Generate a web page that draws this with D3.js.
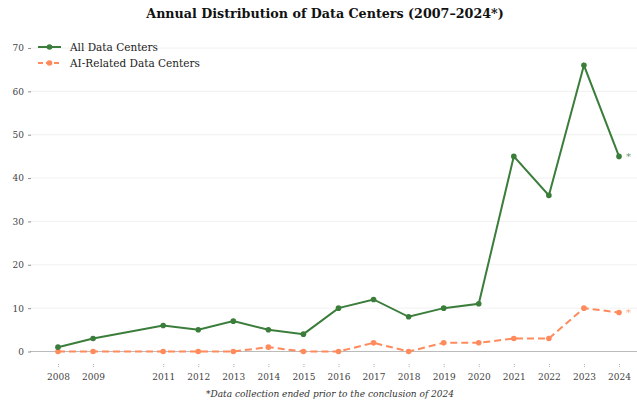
<!DOCTYPE html>
<html><head><meta charset="utf-8">
<script src="https://cdn.jsdelivr.net/npm/d3@7"></script>
<style>
html,body{margin:0;padding:0;background:#fff;}
svg{display:block;font-family:"DejaVu Serif",serif;}
</style></head>
<body><svg id="c" width="637" height="404"></svg>
<script>
const years = [2008,2009,2011,2012,2013,2014,2015,2016,2017,2018,2019,2020,2021,2022,2023,2024];
const allCenters = [1,3,6,5,7,5,4,10,12,8,10,11,45,36,66,45];
const aiCenters = [0,0,0,0,0,1,0,0,2,0,2,2,3,3,10,9];
const yTicks = [0,10,20,30,40,50,60,70];
const seriesNames = ["All Data Centers","AI-Related Data Centers"];
const colors = ["#3b7d3b","#ff8a5b"];
const titleText = "Annual Distribution of Data Centers (2007\u20132024*)";
const footText = "*Data collection ended prior to the conclusion of 2024";

const svg = d3.select("#c");
const x = d3.scaleLinear().domain([2008,2024]).range([58,619]);
const y = d3.scaleLinear().domain([0,70]).range([351.5,48]);

// grid
svg.append("g").selectAll("line").data(yTicks.filter(d=>d>0)).join("line")
  .attr("x1",30).attr("x2",637).attr("y1",d=>y(d)).attr("y2",d=>y(d))
  .attr("stroke","#ececec").attr("stroke-width",0.8);
svg.append("line").attr("x1",30).attr("x2",637).attr("y1",y(0)).attr("y2",y(0))
  .attr("stroke","#bbbbbb").attr("stroke-width",1.2);

// y axis
const ya = svg.append("g").attr("transform","translate(31,0)")
  .call(d3.axisLeft(y).tickValues(yTicks).tickSize(3).tickPadding(4));
ya.select(".domain").remove();
ya.selectAll(".tick line").attr("stroke","#777").attr("stroke-width",0.8);
ya.selectAll("text").attr("font-family","DejaVu Serif").attr("font-size",9).attr("fill","#444");

// x axis
const xa = svg.append("g").attr("transform","translate(0,364)")
  .call(d3.axisBottom(x).tickValues(years).tickFormat(d3.format("d")).tickSize(4).tickPadding(6));
xa.select(".domain").remove();
xa.selectAll(".tick line").attr("stroke","#999").attr("stroke-width",0.8).attr("stroke-dasharray","1,1");
xa.selectAll("text").attr("font-family","DejaVu Serif").attr("font-size",9).attr("fill","#444");

const line = d3.line().x((d,i)=>x(years[i])).y(d=>y(d));

// AI series
svg.append("path").datum(aiCenters).attr("d",line).attr("fill","none")
  .attr("stroke",colors[1]).attr("stroke-width",2).attr("stroke-dasharray","7,4");
svg.append("g").selectAll("circle").data(aiCenters).join("circle")
  .attr("cx",(d,i)=>x(years[i])).attr("cy",d=>y(d)).attr("r",2.8).attr("fill",colors[1]);

// All series
svg.append("path").datum(allCenters).attr("d",line).attr("fill","none")
  .attr("stroke",colors[0]).attr("stroke-width",2);
svg.append("g").selectAll("circle").data(allCenters).join("circle")
  .attr("cx",(d,i)=>x(years[i])).attr("cy",d=>y(d)).attr("r",2.8).attr("fill",colors[0]);

// asterisks
const last = years.length-1;
[[allCenters[last],colors[0]],[aiCenters[last],colors[1]]].forEach(([v,c])=>{
  svg.append("text").attr("x",x(2024)+7).attr("y",y(v)+3.5).attr("fill",c).attr("fill-opacity",0.8)
    .attr("font-size",10).text("*");
});

// title
svg.append("text").attr("x",325).attr("y",18).attr("text-anchor","middle")
  .attr("font-weight","bold").attr("font-size",12.7).attr("fill","#111").text(titleText);

// footnote
svg.append("text").attr("x",330).attr("y",397).attr("text-anchor","middle")
  .attr("font-style","italic").attr("font-size",9).attr("fill","#333").text(footText);

// legend
const lg = svg.append("g");
seriesNames.forEach((n,i)=>{
  const yy = 47 + i*16;
  lg.append("line").attr("x1",38).attr("x2",61).attr("y1",yy).attr("y2",yy)
    .attr("stroke",colors[i]).attr("stroke-width",2).attr("stroke-dasharray",i?"5,3":null);
  lg.append("circle").attr("cx",49.5).attr("cy",yy).attr("r",2.8).attr("fill",colors[i]);
  lg.append("text").attr("x",70).attr("y",yy+3.5).attr("font-size",10.5).attr("fill","#222").text(n);
});
</script></body></html>
